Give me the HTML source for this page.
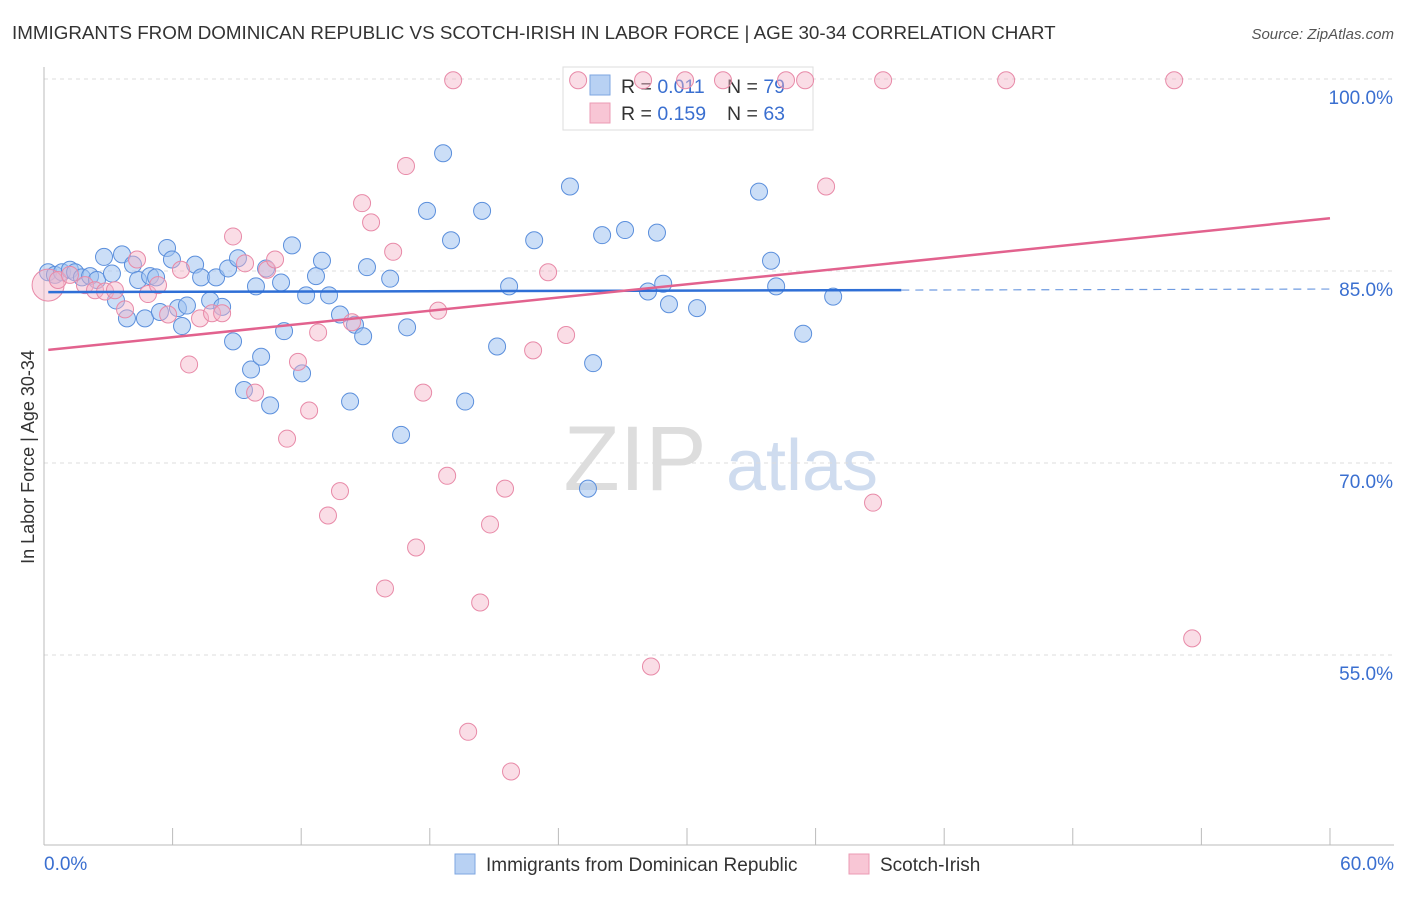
<!DOCTYPE html>
<html><head><meta charset="utf-8"><style>
body{margin:0;background:#fff;font-family:"Liberation Sans",sans-serif;}
svg text{font-family:"Liberation Sans",sans-serif;}
</style></head><body>
<svg id="chart" width="1406" height="892" viewBox="0 0 1406 892" xmlns="http://www.w3.org/2000/svg">
<text x="12" y="39" font-size="18.8" fill="#333">IMMIGRANTS FROM DOMINICAN REPUBLIC VS SCOTCH-IRISH IN LABOR FORCE | AGE 30-34 CORRELATION CHART</text>
<text x="1394" y="39" font-size="15" fill="#555" text-anchor="end" font-style="italic">Source: ZipAtlas.com</text>
<g>
<text x="635" y="490" font-size="92" fill="#ddd" font-family="Liberation Serif" text-anchor="middle">ZIP</text>
<text x="802" y="490" font-size="72" fill="#cfdcef" text-anchor="middle">atlas</text>
</g>
<g id="grid"></g>
<g id="axes"></g>
<g>
<rect x="563" y="67" width="250" height="63" fill="#fff" stroke="#ddd"/>
<rect x="590" y="75" width="20" height="20" fill="#b8d1f3" stroke="#7ea6e0"/>
<rect x="590" y="103" width="20" height="20" fill="#f8c6d5" stroke="#eb9bb4"/>
<text x="621" y="93" font-size="19.5" fill="#333">R = <tspan fill="#3a6fd0">0.011</tspan><tspan x="727">N = </tspan><tspan fill="#3a6fd0">79</tspan></text>
<text x="621" y="120" font-size="19.5" fill="#333">R = <tspan fill="#3a6fd0">0.159</tspan><tspan x="727">N = </tspan><tspan fill="#3a6fd0">63</tspan></text>
</g>
<g id="pts"></g>
<g id="trend"></g>
<text transform="translate(34,457) rotate(-90)" font-size="18" fill="#333" text-anchor="middle">In Labor Force | Age 30-34</text>
<g>
<rect x="455" y="854" width="20" height="20" fill="#b8d1f3" stroke="#7ea6e0"/>
<text x="486" y="871" font-size="19" fill="#333">Immigrants from Dominican Republic</text>
<rect x="849" y="854" width="20" height="20" fill="#f8c6d5" stroke="#eb9bb4"/>
<text x="880" y="871" font-size="19" fill="#333">Scotch-Irish</text>
</g>
</svg>
<script>
const yTicks=[100,85,70,55];
const yTickLabels=["100.0%","85.0%","70.0%","55.0%"];
const xTickCount=[0,6,12,18,24,30,36,42,48,54,60];
const xLabels=["0.0%","60.0%"];
const blueX=[0.19,0.51,0.84,1.21,1.45,1.77,2.15,2.47,2.80,3.17,3.64,3.36,3.87,4.15,4.39,4.71,4.95,5.23,5.41,5.74,5.97,6.25,6.44,6.67,7.05,7.33,7.75,8.03,8.31,8.59,8.82,9.05,9.33,9.66,9.89,10.13,10.36,10.55,11.06,11.20,11.57,12.04,12.23,12.69,12.97,13.30,13.81,14.28,14.51,14.89,15.07,16.15,16.66,16.94,17.87,18.62,18.99,19.65,20.44,21.14,21.70,22.87,24.54,25.38,25.62,26.04,27.11,28.18,28.60,28.89,29.16,30.47,33.36,33.92,34.16,35.42,36.82];
const blueY=[84.9,84.7,84.9,85.1,84.9,84.5,84.6,84.3,86.1,84.8,86.3,82.7,81.3,85.5,84.3,81.3,84.6,84.5,81.8,86.8,85.9,82.1,80.7,82.3,85.5,84.5,82.7,84.5,82.2,85.2,79.5,86.0,75.7,77.3,83.8,78.3,85.2,74.5,84.1,80.3,87.0,77.0,83.1,84.6,85.8,83.1,81.6,74.8,80.8,79.9,85.3,84.4,72.2,80.6,89.7,94.2,87.4,74.8,89.7,79.1,83.8,87.4,91.6,68.0,77.8,87.8,88.2,83.4,88.0,84.0,82.4,82.1,91.2,85.8,83.8,80.1,83.0];
const pinkX=[0.19,0.65,1.21,1.91,2.38,2.85,3.31,3.78,4.34,4.85,5.32,5.79,6.39,6.77,7.28,7.84,8.31,8.82,9.38,9.85,10.41,10.78,11.34,11.85,12.37,12.79,13.25,13.81,14.37,14.84,15.26,15.91,16.29,16.89,17.36,17.69,18.39,18.81,19.09,19.79,20.35,20.81,21.51,21.79,22.82,23.52,24.36,24.92,27.95,28.32,29.91,31.68,34.62,35.51,36.49,38.68,39.15,44.89,52.73,53.57];
const pinkY=[83.9,84.3,84.7,83.9,83.5,83.4,83.5,82.0,85.9,83.2,83.9,81.6,85.1,77.7,81.3,81.7,81.7,87.7,85.6,75.5,85.1,85.9,71.9,77.9,74.1,80.2,65.9,67.8,81.0,90.3,88.8,60.2,86.5,93.2,63.4,75.5,81.9,69.0,99.9,49.0,59.1,65.2,68.0,45.9,78.8,84.9,80.0,99.9,99.9,54.1,99.9,99.9,99.9,99.9,91.6,66.9,99.9,99.9,99.9,56.3];
const blueTrend=[83.35,0.004];   // intercept, slope
const pinkTrend=[78.8,0.172];
const NS="http://www.w3.org/2000/svg";
const xs=v=>44+v*21.433, ys=v=>79+(100-v)*12.8;
function mk(t,a,p){const e=document.createElementNS(NS,t);for(const k in a)e.setAttribute(k,a[k]);document.getElementById(p).appendChild(e);return e;}
yTicks.forEach((t,i)=>{
 const l=mk('line',{x1:44,x2:1394,y1:ys(t),y2:ys(t),stroke:'#ddd','stroke-dasharray':'4,4'},'grid');
 
 
 const tx=mk('text',{x:1393,y:ys(t)+25,'font-size':19,fill:'#3a6fd0','text-anchor':'end'},'axes');
 tx.textContent=yTickLabels[i];
 
 
});
const ax=mk('line',{x1:44,x2:44,y1:67,y2:845,stroke:'#bbb'},'axes');


const bx=mk('line',{x1:44,x2:1394,y1:845,y2:845,stroke:'#bbb'},'axes');


xTickCount.forEach(t=>{
 const l=mk('line',{x1:xs(t),x2:xs(t),y1:828,y2:845,stroke:'#bbb'},'axes');
 
 
});
[[0,xLabels[0],'start',44],[60,xLabels[1],'end',1394]].forEach(d=>{
 const t=mk('text',{x:d[3],y:870,'font-size':19,fill:'#3a6fd0','text-anchor':d[2]},'axes');
 t.textContent=d[1];
 
 
});
blueX.forEach((x,i)=>{
 const c=mk('circle',{cx:xs(x),cy:ys(blueY[i]),r:8.5,fill:'rgba(160,195,240,0.55)',stroke:'#5b8fdc','stroke-width':1},'pts');
 
 
});
pinkX.forEach((x,i)=>{
 const c=mk('circle',{cx:xs(x),cy:ys(pinkY[i]),r:i==0?16:8.5,fill:'rgba(245,180,200,0.45)',stroke:'#e88aa8','stroke-width':1},'pts');
 
 
});
const b1=mk('line',{x1:xs(0.2),x2:xs(40),y1:ys(blueTrend[0]+blueTrend[1]*0.2),y2:ys(blueTrend[0]+blueTrend[1]*40),stroke:'#2f6fd6','stroke-width':2.5},'trend');


const b2=mk('line',{x1:xs(40),x2:xs(60),y1:ys(blueTrend[0]+blueTrend[1]*40),y2:ys(blueTrend[0]+blueTrend[1]*60),stroke:'#6f9be0','stroke-width':1.2,'stroke-dasharray':'8,6'},'trend');


const p1=mk('line',{x1:xs(0.2),x2:xs(60),y1:ys(pinkTrend[0]+pinkTrend[1]*0.2),y2:ys(pinkTrend[0]+pinkTrend[1]*60),stroke:'#e2628e','stroke-width':2.5},'trend');


</script>
</body></html>
